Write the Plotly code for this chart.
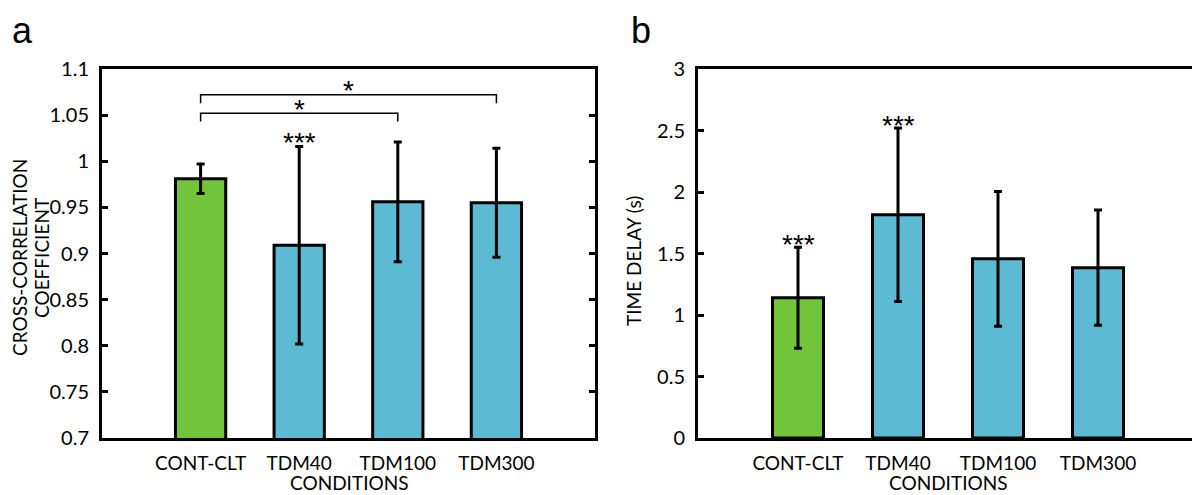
import plotly.graph_objects as go

# ---------------- data ----------------
conditions = ["CONT-CLT", "TDM40", "TDM100", "TDM300"]

cc_mean = [0.981, 0.909, 0.956, 0.955]
cc_err = [0.016, 0.107, 0.065, 0.059]

td_mean = [1.14, 1.815, 1.457, 1.385]
td_err = [0.41, 0.705, 0.548, 0.468]

bar_colors = ["#72C43A", "#5DBAD3", "#5DBAD3", "#5DBAD3"]

# significance brackets for panel a: (from index, to index, line height, drop)
brackets_a = [(0, 3, 1.072, 1.063), (0, 2, 1.052, 1.043)]
# single-condition stars: (panel, index, y, text)
stars = [("a", 1, 1.027, "***"), ("b", 0, 1.62, "***"), ("b", 1, 2.59, "***")]

FONT = "Lato, 'Open Sans', sans-serif"
STARFONT = "Liberation Sans, Arial, sans-serif"

# page body has an 8px margin: size the figure to fit the window and
# express target window pixels relative to the figure origin
OFF = 8
W, H = 1200 - OFF, 495 - OFF

# plot-area geometry (window pixels)
ya_top, ya_bot = 69, 438
xa_l, xa_r = 102, 595
xb_l, xb_r = 698, 1198


def px(x):
    return (x - OFF) / W


def py(y):
    return (H - (y - OFF)) / H


fig = go.Figure()

fig.add_trace(go.Bar(
    x=conditions, y=cc_mean, width=0.51,
    marker=dict(color=bar_colors, line=dict(color="black", width=3)),
    error_y=dict(type="data", array=cc_err, color="black", thickness=3, width=4),
    xaxis="x", yaxis="y", showlegend=False))

fig.add_trace(go.Bar(
    x=conditions, y=td_mean, width=0.51,
    marker=dict(color=bar_colors, line=dict(color="black", width=3)),
    error_y=dict(type="data", array=td_err, color="black", thickness=3, width=4),
    xaxis="x2", yaxis="y2", showlegend=False))

ydom = [py(ya_bot), py(ya_top)]

common_x = dict(type="category", range=[-1, 4], showline=True, linecolor="black",
                linewidth=3, mirror=True, ticks="", showgrid=False, zeroline=False,
                automargin=False,
                tickfont=dict(family=FONT, size=19, color="black"),
                ticklabelstandoff=6)
common_y = dict(showline=True, linecolor="black", linewidth=3, mirror="ticks",
                ticks="inside", ticklen=6, tickwidth=3, tickcolor="black",
                showgrid=False, zeroline=False, automargin=False,
                tickfont=dict(family=FONT, size=20, color="black"),
                ticklabelstandoff=6)

fig.update_layout(
    template="none",
    width=W, height=H, margin=dict(l=0, r=0, t=0, b=0, pad=0),
    paper_bgcolor="white", plot_bgcolor="white",
    xaxis=dict(domain=[px(xa_l), px(xa_r)], anchor="y", **common_x),
    yaxis=dict(domain=ydom, anchor="x", range=[0.7, 1.1], dtick=0.05,
               tickformat="~g", **common_y),
    xaxis2=dict(domain=[px(xb_l), px(xb_r)], anchor="y2", **common_x),
    yaxis2=dict(domain=ydom, anchor="x2", range=[0, 3], dtick=0.5,
                tickformat="~g", **common_y),
)

# brackets
for i0, i1, yl, yd in brackets_a:
    fig.add_shape(type="path",
                  path=f"M {i0},{yd} L {i0},{yl} L {i1},{yl} L {i1},{yd}",
                  xref="x", yref="y", line=dict(color="black", width=1.5))
    fig.add_annotation(x=(i0 + i1) / 2, y=yl, xref="x", yref="y", text="*",
                       showarrow=False, xanchor="center", yanchor="middle", yshift=4,
                       font=dict(family=STARFONT, size=28, color="black"))

for panel, idx, yv, txt in stars:
    xr, yr = ("x", "y") if panel == "a" else ("x2", "y2")
    fig.add_annotation(x=idx, y=yv, xref=xr, yref=yr, text=txt, showarrow=False,
                       xanchor="center", yanchor="middle", yshift=-6,
                       font=dict(family=STARFONT, size=28, color="black"))


def paper_text(xpx, ypx, txt, size, angle=0, family=FONT):
    fig.add_annotation(x=px(xpx), y=py(ypx), xref="paper", yref="paper",
                       text=txt, textangle=angle, showarrow=False,
                       xanchor="center", yanchor="middle",
                       font=dict(family=family, size=size, color="black"))


# axis titles
paper_text(20, 258, "CROSS-CORRELATION", 19, -90)
paper_text(42, 258, "COEFFICIENT", 19, -90)
paper_text(633, 261, "TIME DELAY (s)", 19, -90)
paper_text((xa_l + xa_r) / 2, 482, "CONDITIONS", 19)
paper_text((xb_l + xb_r) / 2, 482, "CONDITIONS", 19)

# panel letters
paper_text(22, 31, "a", 36, family="Liberation Sans, Arial")
paper_text(641, 30, "b", 36, family="Liberation Sans, Arial")

fig.write_html("out.html")
